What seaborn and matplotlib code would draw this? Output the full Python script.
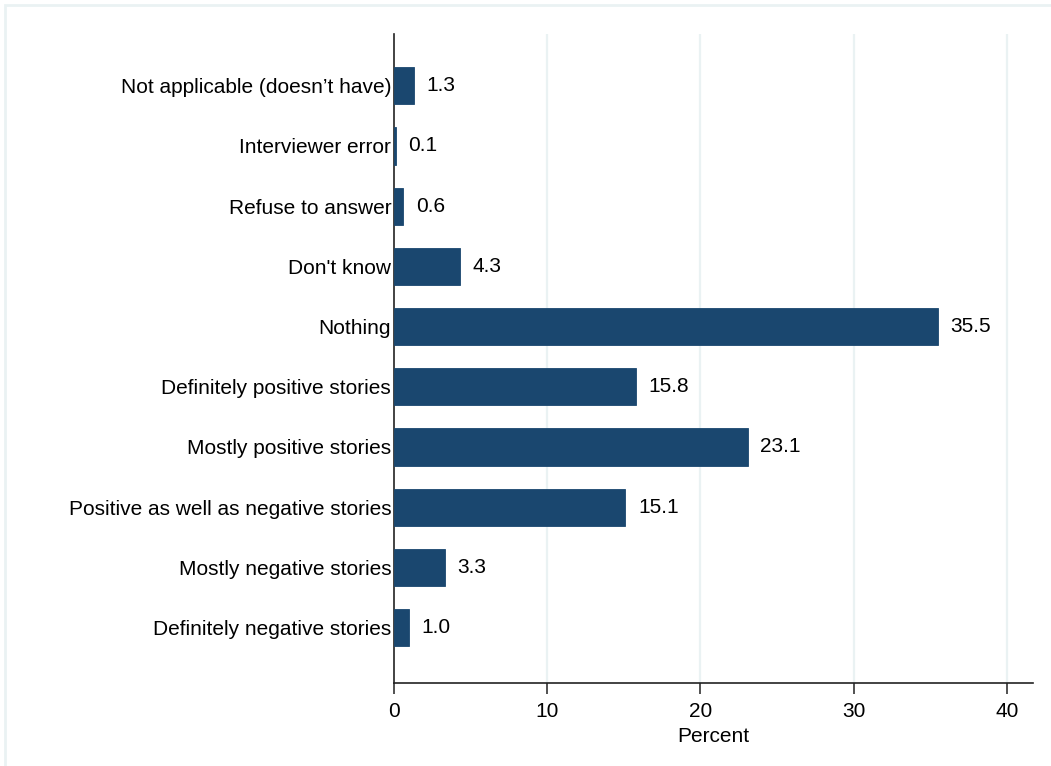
import seaborn as sns
import matplotlib.pyplot as plt
from matplotlib.patches import Rectangle

categories = ["Not applicable (doesn\u2019t have)", "Interviewer error", "Refuse to answer",
              "Don't know", "Nothing", "Definitely positive stories",
              "Mostly positive stories", "Positive as well as negative stories",
              "Mostly negative stories", "Definitely negative stories"]
percent = [1.3, 0.1, 0.6, 4.3, 35.5, 15.8, 23.1, 15.1, 3.3, 1.0]
xticks = [0, 10, 20, 30, 40]

sns.set_style("white")
plt.rcParams['font.family'] = ['Liberation Sans', 'DejaVu Sans']
plt.rcParams['text.color'] = 'black'
plt.rcParams['xtick.color'] = 'black'
plt.rcParams['ytick.color'] = 'black'
plt.rcParams['axes.labelcolor'] = 'black'

fig = plt.figure(figsize=(10.51, 7.66), dpi=100)
ax = fig.add_axes([394/1051, 1 - 683/766, (1033 - 394)/1051, (683 - 34)/766])

sns.barplot(x=percent, y=categories, orient="h", color="#1a476f",
            saturation=1, width=0.62, ax=ax, zorder=3,
            edgecolor="#1a476f", linewidth=0.6)
ax.bar_label(ax.containers[0], fmt="%.1f", padding=9, fontsize=15)

ax.set_xlim(0, 41.7)
ax.set_ylim(9.92, -0.86)
ax.set_xticks(xticks)
for x in xticks[1:]:
    ax.axvline(x, color="#eaf2f3", lw=1.6, zorder=0)

for s in ["top", "right"]:
    ax.spines[s].set_visible(False)
for s in ["left", "bottom"]:
    ax.spines[s].set_color("#222222")
    ax.spines[s].set_linewidth(1.2)

ax.tick_params(axis="y", length=0, pad=2, labelsize=15)
ax.tick_params(axis="x", length=8, width=1.1, color="#222222", pad=6, labelsize=15, bottom=True)
ax.set_xlabel("Percent", fontsize=15, labelpad=4)
ax.set_ylabel("")

fig.patches.append(Rectangle((5/1051, -0.05), 1.2, 1 - 5/766 + 0.05, transform=fig.transFigure,
                             fill=False, edgecolor="#eaf2f3", lw=2))

fig.savefig("out.png", dpi=100)
